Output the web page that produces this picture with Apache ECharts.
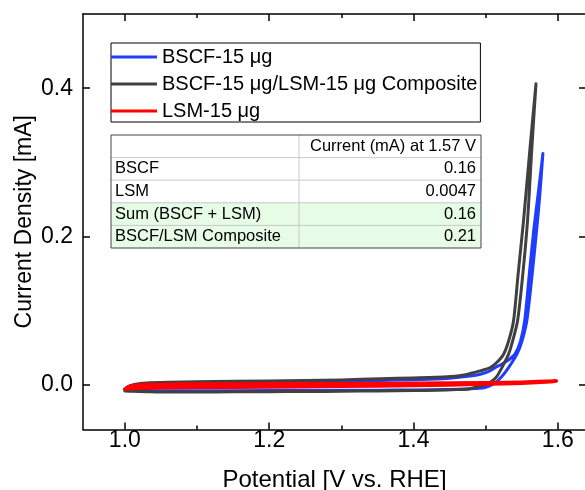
<!DOCTYPE html>
<html><head><meta charset="utf-8">
<script src="https://cdn.jsdelivr.net/npm/echarts@6/dist/echarts.min.js"></script>
<style>html,body{margin:0;padding:0;background:#fff}#c{width:585px;height:490px}</style>
</head><body><div id="c"></div>
<script>
const FONT = '"Liberation Sans", Arial, sans-serif';

// ---- Data ----
const seriesNames = ['BSCF-15 μg', 'BSCF-15 μg/LSM-15 μg Composite', 'LSM-15 μg'];
const seriesColors = ['#1f3cff', '#404040', '#ff0000'];

// BSCF-15 μg (closed CV loop: forward then return)
const bscfV = [1.000,1.005,1.015,1.030,1.060,1.100,1.200,1.300,1.354,1.400,1.447,1.4785,1.4925,1.505,1.513,1.522,1.532,1.5405,1.548,1.554,1.5605,1.5665,1.573,1.5793,
               1.5745,1.5705,1.5645,1.557,1.5505,1.5433,1.5317,1.522,1.512,1.500,1.490,1.470,1.450,1.400,1.350,1.300,1.200,1.100,1.060,1.030,1.010,1.000];
const bscfI = [-0.006,-0.002,0.0003,0.0015,0.0025,0.003,0.0037,0.0048,0.006,0.0072,0.0088,0.012,0.0144,0.0185,0.0234,0.028,0.034,0.0415,0.058,0.0865,0.15,0.208,0.26,0.312,
               0.25,0.208,0.15,0.0865,0.06,0.0415,0.0234,0.011,0.002,-0.003,-0.0045,-0.0055,-0.006,-0.0067,-0.007,-0.0072,-0.0075,-0.0078,-0.0078,-0.0075,-0.007,-0.006];

// BSCF-15 μg/LSM-15 μg Composite
const compV = [1.000,1.005,1.015,1.030,1.060,1.100,1.200,1.300,1.354,1.400,1.447,1.470,1.4785,1.4925,1.5063,1.516,1.5248,1.532,1.5386,1.545,1.5525,1.561,1.5697,
               1.564,1.558,1.551,1.5442,1.537,1.5317,1.5225,1.515,1.507,1.500,1.490,1.477,1.460,1.430,1.400,1.350,1.300,1.250,1.200,1.150,1.100,1.060,1.030,1.010,1.000];
const compI = [-0.008,-0.002,0.001,0.0028,0.0038,0.0043,0.0055,0.0068,0.0085,0.0095,0.011,0.0135,0.0155,0.019,0.0234,0.031,0.0415,0.06,0.0865,0.15,0.222,0.315,0.406,
               0.32,0.2216,0.145,0.0865,0.058,0.0415,0.0234,0.011,0.004,0.001,-0.002,-0.0054,-0.0062,-0.007,-0.0075,-0.008,-0.0085,-0.0088,-0.009,-0.0092,-0.0095,-0.0095,-0.009,-0.0085,-0.008];

// LSM-15 μg
const lsmV = [1.000,1.005,1.015,1.030,1.060,1.100,1.200,1.300,1.400,1.500,1.550,1.598,
              1.590,1.550,1.500,1.450,1.400,1.300,1.200,1.100,1.050,1.020,1.000];
const lsmI = [-0.006,-0.0025,-0.0005,0.0005,0.001,0.0013,0.0015,0.0018,0.0022,0.003,0.0038,0.0055,
              0.0045,0.0025,0.0012,0.0,-0.0008,-0.0018,-0.0026,-0.0032,-0.0037,-0.0045,-0.0055];

const xTicks = [1.0, 1.2, 1.4, 1.6];
const xMinorTicks = [1.1, 1.3, 1.5];
const yTicks = [0.0, 0.2, 0.4];

const tableHeader = ['', 'Current (mA) at 1.57 V'];
const tableLabels = ['BSCF', 'LSM', 'Sum (BSCF + LSM)', 'BSCF/LSM Composite'];
const tableValues = ['0.16', '0.0047', '0.16', '0.21'];
const tableHighlight = [false, false, true, true];

// ---- Build ----
const X_MIN = 0.942, X_MAX = 1.639, Y_MIN = -0.06, Y_MAX = 0.5;
const zip = (a, b) => a.map((v, i) => [v, b[i]]);
const seriesData = [zip(bscfV, bscfI), zip(compV, compI), zip(lsmV, lsmI)];
const widths = [3, 3, 3.5];

const tickStyle = {color: '#000', width: 1.5};
const xBase = {type: 'value', min: X_MIN, max: X_MAX, splitLine: {show: false}};
const yBase = {type: 'value', min: Y_MIN, max: Y_MAX, splitLine: {show: false}};
const lineOn = {show: true, onZero: false, lineStyle: {color: '#000', width: 1.5}};
const lineOff = {show: false, onZero: false};

// table graphic
const T = {x: 111, y: 135, w: 370, col: 188, rh: 22.6};
const tableChildren = [];
const nRows = tableLabels.length + 1;
for (let r = 0; r < nRows; r++) {
  const hl = r > 0 && tableHighlight[r - 1];
  tableChildren.push({type: 'rect', shape: {x: T.x, y: T.y + r * T.rh, width: T.w, height: T.rh},
    style: {fill: hl ? '#e6fce6' : '#ffffff'}});
}
for (let r = 1; r < nRows; r++) {
  tableChildren.push({type: 'line', shape: {x1: T.x, y1: T.y + r * T.rh, x2: T.x + T.w, y2: T.y + r * T.rh},
    style: {stroke: '#c8c8c8', lineWidth: 1}});
}
tableChildren.push({type: 'line', shape: {x1: T.x + T.col, y1: T.y, x2: T.x + T.col, y2: T.y + nRows * T.rh},
  style: {stroke: '#c8c8c8', lineWidth: 1}});
tableChildren.push({type: 'rect', shape: {x: T.x, y: T.y, width: T.w, height: nRows * T.rh},
  style: {fill: null, stroke: '#444', lineWidth: 1}});
const cellFont = {fontSize: 16.5, fontFamily: FONT, fill: '#000'};
tableChildren.push({type: 'text', style: Object.assign({text: tableHeader[1], x: T.x + T.w - 5, y: T.y + T.rh / 2,
  align: 'right', verticalAlign: 'middle'}, cellFont)});
for (let i = 0; i < tableLabels.length; i++) {
  const cy = T.y + (i + 1.5) * T.rh;
  tableChildren.push({type: 'text', style: Object.assign({text: tableLabels[i], x: T.x + 4, y: cy,
    align: 'left', verticalAlign: 'middle'}, cellFont)});
  tableChildren.push({type: 'text', style: Object.assign({text: tableValues[i], x: T.x + T.w - 5, y: cy,
    align: 'right', verticalAlign: 'middle'}, cellFont)});
}

const option = {
  animation: false,
  backgroundColor: '#fff',
  grid: {left: 83, right: -1, top: 14, bottom: 60.5, containLabel: false, outerBoundsMode: 'none'},
  xAxis: [
    Object.assign({}, xBase, {position: 'bottom', axisLine: lineOn,
      axisTick: {show: true, inside: true, length: 7, customValues: xTicks, lineStyle: tickStyle},
      axisLabel: {show: true, customValues: xTicks, formatter: v => v.toFixed(1), fontSize: 23, color: '#000', fontFamily: FONT, margin: 0},
      name: 'Potential [V vs. RHE]', nameLocation: 'middle', nameGap: 39,
      nameTextStyle: {fontSize: 24, color: '#000', fontFamily: FONT}}),
    Object.assign({}, xBase, {position: 'bottom', axisLine: lineOff,
      axisTick: {show: true, inside: true, length: 4, customValues: xMinorTicks, lineStyle: tickStyle},
      axisLabel: {show: false}}),
    Object.assign({}, xBase, {position: 'top', axisLine: lineOn,
      axisTick: {show: true, inside: true, length: 7, customValues: xTicks, lineStyle: tickStyle},
      axisLabel: {show: false}}),
    Object.assign({}, xBase, {position: 'top', axisLine: lineOff,
      axisTick: {show: true, inside: true, length: 4, customValues: xMinorTicks, lineStyle: tickStyle},
      axisLabel: {show: false}})
  ],
  yAxis: [
    Object.assign({}, yBase, {position: 'left', axisLine: lineOn,
      axisTick: {show: true, inside: true, length: 7, customValues: yTicks, lineStyle: tickStyle},
      axisLabel: {show: true, customValues: yTicks, formatter: v => v.toFixed(1), fontSize: 23, color: '#000', fontFamily: FONT, margin: 10},
      name: 'Current Density [mA]', nameLocation: 'middle', nameGap: 47, nameMoveOverlap: false,
      nameTextStyle: {fontSize: 23, color: '#000', fontFamily: FONT}}),
    Object.assign({}, yBase, {position: 'right', axisLine: lineOn,
      axisTick: {show: true, inside: true, length: 7, customValues: yTicks, lineStyle: tickStyle},
      axisLabel: {show: false}})
  ],
  legend: {
    left: 111, top: 43, orient: 'vertical',
    data: seriesNames.map(n => ({name: n})),
    icon: 'rect', itemWidth: 46, itemHeight: 3, itemGap: 7,
    padding: [4, 3, 1, 0],
    borderColor: '#000', borderWidth: 1, backgroundColor: '#fff',
    textStyle: {fontSize: 20, lineHeight: 20, color: '#000', fontFamily: FONT}
  },
  graphic: [{type: 'group', children: tableChildren}],
  series: seriesData.map((d, i) => ({
    name: seriesNames[i], type: 'line', data: d, xAxisIndex: 0, yAxisIndex: 0,
    showSymbol: false, symbol: 'none', smooth: 0.25,
    color: seriesColors[i],
    lineStyle: {color: seriesColors[i], width: widths[i], cap: 'round', join: 'round'},
    z: 2 + i
  }))
};
const chart = echarts.init(document.getElementById('c'), null, {renderer: 'canvas'});
chart.setOption(option);
</script></body></html>
